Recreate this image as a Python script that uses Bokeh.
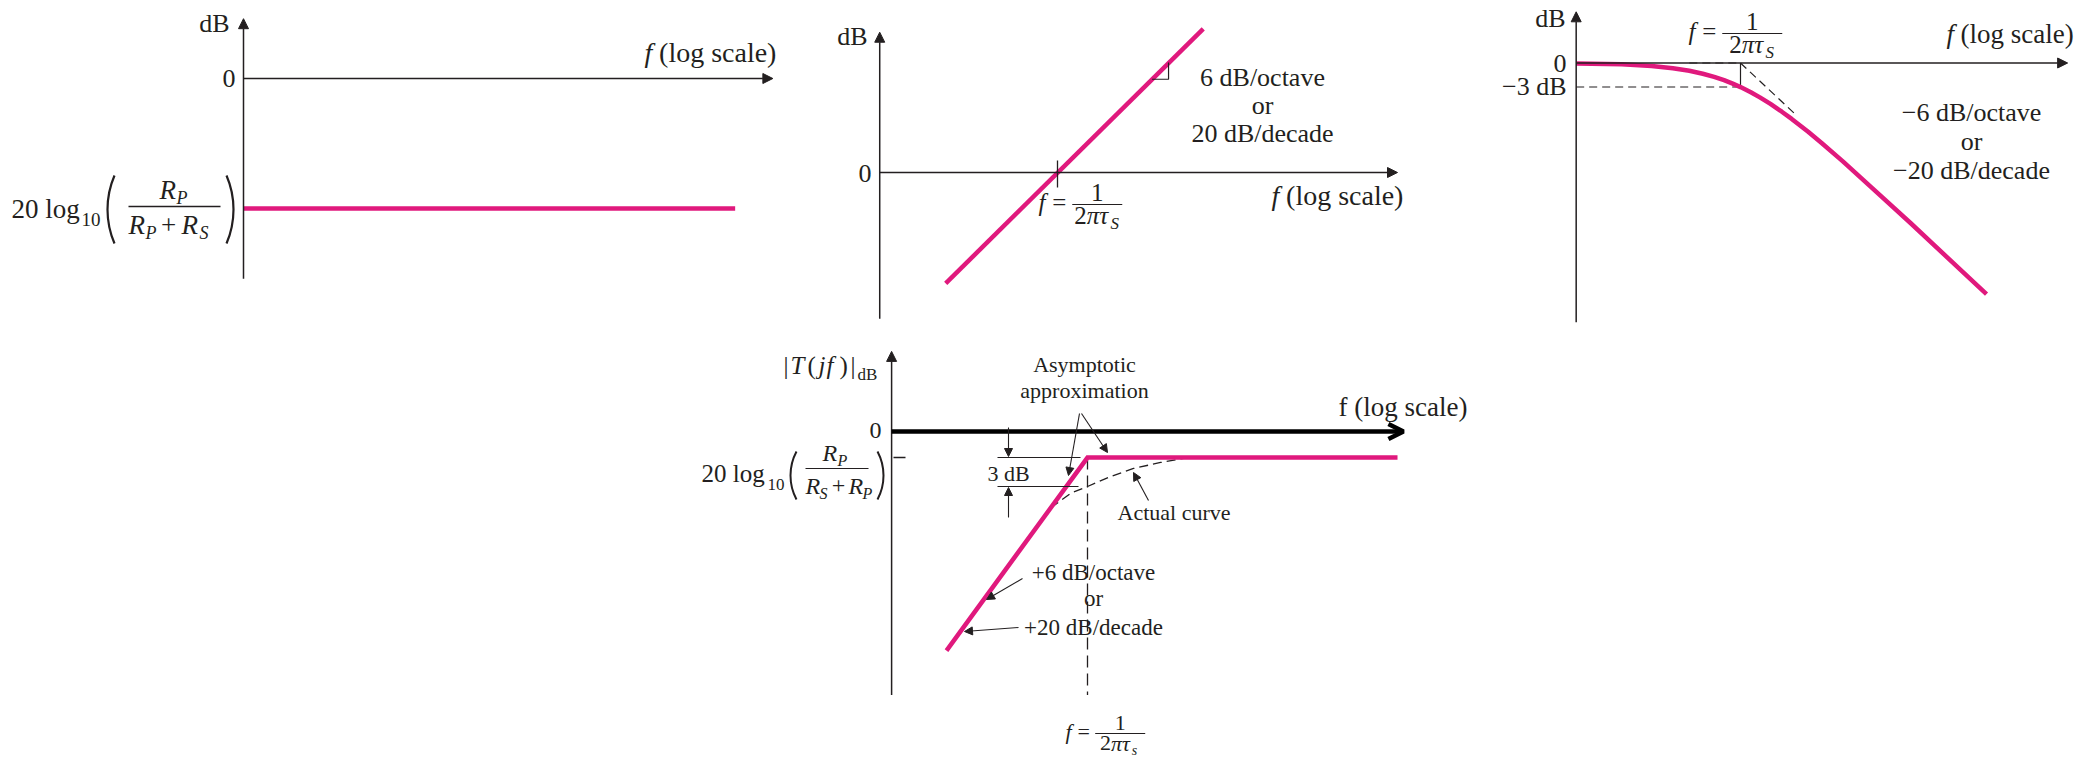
import math
from bokeh.plotting import figure
from bokeh.layouts import column, row
from bokeh.models import Range1d, Label, Arrow, NormalHead, OpenHead, Spacer
from bokeh.embed import file_html
from bokeh.resources import INLINE

SERIF = "Liberation Serif"
INK = "#231f20"
PINK = "#e0197d"

# ---------------------------------------------------------------------------
# Data: frequency normalised to the corner frequency (f / f0), levels in dB
# ---------------------------------------------------------------------------
# (a) resistive divider alone: flat loss 20 log10(Rp / (Rp + Rs))
a_freq = [0.1, 78.0]
a_db = [-10.0, -10.0]
a_freq_axis = [0.1, 130.0]
a_db_axis = [-15.4, 4.6]

# (b) series capacitor term: +20 dB/decade asymptote through 0 dB at f0
b_freq = [0.22, 7.2]
b_db = [-13.2, 17.1]
b_step_freq = [3.6, 4.5, 4.5]
b_step_db = [11.1, 11.1, 13.1]
b_freq_axis = [0.09, 100.0]
b_db_axis = [-17.4, 16.7]

# (c) single-pole low-pass response (actual curve) and its asymptotes
c_freq = [0.108, 0.2, 0.3, 0.4, 0.5, 0.6, 0.7, 0.8, 0.9, 1.0, 1.15, 1.3,
          1.5, 1.75, 2.0, 2.5, 3.0, 4.0, 6.0, 10.0, 28.0]
c_db = [-0.05, -0.17, -0.37, -0.65, -0.97, -1.34, -1.73, -2.15, -2.58, -3.01,
        -3.66, -4.30, -5.12, -6.09, -6.99, -8.60, -10.0, -12.3, -15.7, -20.0,
        -28.9]
c_flat_freq = [0.5, 1.0]
c_flat_db = [0.0, 0.0]
c_roll_freq = [1.0, 2.1]
c_roll_db = [0.0, -6.4]
c_half_freq = [0.108, 1.0]
c_half_db = [-3.0, -3.0]
c_mark_freq = [1.0, 1.0]
c_mark_db = [0.0, -3.0]
c_freq_axis = [0.108, 84.0]
c_db_axis = [-32.4, 6.4]

# (d) complete high-pass response with divider loss
d_level = -2.7
d_asym_freq = [0.1, 1.0, 158.0]
d_asym_db = [-22.7, -2.7, -2.7]
d_actual_freq = [0.55, 0.76, 1.0, 1.46, 2.12, 3.3, 5.1]
d_actual_db = [-7.9, -6.4, -5.7, -4.66, -3.83, -3.21, -2.72]
d_corner_freq = [1.0, 1.0]
d_corner_db = [-2.7, -27.3]
d_freq_axis = [0.0408, 174.0]
d_db_axis = [-27.3, 8.3]

# ---------------------------------------------------------------------------
# Page geometry of each panel (pixels) and its scale
# ---------------------------------------------------------------------------
GEOM = {
    "a": dict(left=0, top=0, w=800, h=335, f_ref=0.1, x_ref=243, ppd=170.0, y0=78, ppdb=13.0),
    "b": dict(left=800, top=0, w=630, h=335, f_ref=1.0, x_ref=1057, ppd=170.0, y0=172, ppdb=8.4),
    "c": dict(left=1430, top=0, w=650, h=335, f_ref=1.0, x_ref=1740, ppd=170.0, y0=62.5, ppdb=8.0),
    "d": dict(left=680, top=335, w=800, h=424, f_ref=1.0, x_ref=1087, ppd=141.0, y0=431, ppdb=9.65),
}


def make_panel(g):
    xr = g["x_ref"] - g["left"]
    x0 = g["f_ref"] * 10 ** (-xr / g["ppd"])
    x1 = g["f_ref"] * 10 ** ((g["w"] - xr) / g["ppd"])
    yr = g["y0"] - g["top"]
    p = figure(width=g["w"], height=g["h"], x_axis_type="log",
               x_range=Range1d(x0, x1),
               y_range=Range1d(-(g["h"] - yr) / g["ppdb"], yr / g["ppdb"]),
               x_axis_location=None, y_axis_location=None,
               output_backend="svg", toolbar_location=None, min_border=0)
    p.outline_line_color = None
    p.background_fill_color = "white"
    p.border_fill_color = "white"
    for gr in p.grid:
        gr.visible = False
    return p


def to_data(g, x, y):
    """Page pixel position -> (frequency, dB) in a panel."""
    return g["f_ref"] * 10 ** ((x - g["x_ref"]) / g["ppd"]), (g["y0"] - y) / g["ppdb"]


def put(p, g, x, y, text, size, style="normal", align="left"):
    # y is the text baseline on the page; the label box is anchored slightly above it
    yb = y - 0.36 * size
    p.add_layout(Label(x=x - g["left"], y=g["h"] - (yb - g["top"]),
                       x_units="screen", y_units="screen", text=text,
                       text_font=SERIF, text_font_size=f"{size}px",
                       text_font_style=style, text_align=align,
                       text_baseline="alphabetic", text_color=INK))


def seg(p, g, x0, y0, x1, y1, width=1.2, head=None):
    p.add_layout(Arrow(x_start=x0 - g["left"], y_start=g["h"] - (y0 - g["top"]),
                       x_end=x1 - g["left"], y_end=g["h"] - (y1 - g["top"]),
                       start_units="screen", end_units="screen", end=head,
                       line_color=INK, line_width=width))


def pointer(p, g, x0, y0, x1, y1):
    seg(p, g, x0, y0, x1, y1, 1.1,
        NormalHead(size=8, fill_color=INK, line_color=INK, line_width=1))


def paren(p, g, x_edge, y_top, y_bot, opening, bulge=7.0, width=2.2):
    h = y_bot - y_top
    r = (h * h / 4 + bulge * bulge) / (2 * bulge)
    a = math.asin((h / 2) / r)
    ym = (y_top + y_bot) / 2
    if opening:
        f, db = to_data(g, x_edge + r, ym)
        start, end = math.pi - a, math.pi + a
    else:
        f, db = to_data(g, x_edge - r, ym)
        start, end = -a, a
    p.arc(x=[f], y=[db], radius=r, radius_units="screen", start_angle=start,
          end_angle=end, line_color=INK, line_width=width)


def axes(p, fax, dbax, thick=False):
    head = NormalHead(size=10, fill_color=INK, line_color=INK, line_width=1)
    p.add_layout(Arrow(x_start=fax[0], y_start=dbax[0], x_end=fax[0], y_end=dbax[1],
                       end=head, line_color=INK, line_width=1.5))
    if thick:
        p.add_layout(Arrow(x_start=fax[0], y_start=0, x_end=fax[1], y_end=0,
                           end=OpenHead(size=15, line_color="black", line_width=4.5),
                           line_color="black", line_width=4.5))
    else:
        p.add_layout(Arrow(x_start=fax[0], y_start=0, x_end=fax[1], y_end=0,
                           end=NormalHead(size=10, fill_color=INK, line_color=INK, line_width=1),
                           line_color=INK, line_width=1.5))


def log_scale_label(p, g, x, y, size=28):
    put(p, g, x, y, "f", size, "italic")
    put(p, g, x + 0.52 * size, y, "(log scale)", size)


def corner_label(p, g, xf, ybar, bar, size, sub):
    base = ybar + 0.26 * size
    put(p, g, xf, base, "f", size, "italic")
    put(p, g, xf + 0.55 * size, base, "=", size)
    xb0 = xf + 1.35 * size
    seg(p, g, xb0, ybar, xb0 + bar, ybar, 1.2)
    xc = xb0 + bar / 2
    put(p, g, xc, ybar - 0.14 * size, "1", size, align="center")
    x2 = xc - 0.92 * size
    put(p, g, x2, ybar + 0.8 * size, "2", size)
    put(p, g, x2 + 0.5 * size, ybar + 0.8 * size, "\u03c0\u03c4", size, "italic")
    put(p, g, x2 + 1.45 * size, ybar + 1.0 * size, sub, int(size * 0.68), "italic")


GA, GB, GC, GD = GEOM["a"], GEOM["b"], GEOM["c"], GEOM["d"]

# ---------------- (a) ----------------
pa = make_panel(GA)
pa.line(a_freq, a_db, line_color=PINK, line_width=4.5)
axes(pa, a_freq_axis, a_db_axis)
put(pa, GA, 229, 32, "dB", 26, align="right")
put(pa, GA, 235, 87, "0", 26, align="right")
log_scale_label(pa, GA, 644, 62)
put(pa, GA, 11, 218, "20 log", 27)
put(pa, GA, 81, 226, "10", 19)
paren(pa, GA, 107, 175, 243, True)
put(pa, GA, 159, 199, "R", 27, "italic")
put(pa, GA, 176, 204, "P", 18, "italic")
seg(pa, GA, 128, 206, 220, 206, 1.3)
put(pa, GA, 128, 234, "R", 27, "italic")
put(pa, GA, 145, 239, "P", 18, "italic")
put(pa, GA, 168, 234, "+", 27, align="center")
put(pa, GA, 181, 234, "R", 27, "italic")
put(pa, GA, 199, 239, "S", 18, "italic")
paren(pa, GA, 233, 175, 243, False)

# ---------------- (b) ----------------
pb = make_panel(GB)
pb.line(b_freq, b_db, line_color=PINK, line_width=4.5)
pb.line(b_step_freq, b_step_db, line_color=INK, line_width=1.2)
axes(pb, b_freq_axis, b_db_axis)
seg(pb, GB, GB["x_ref"], 160, GB["x_ref"], 187, 1.3)
put(pb, GB, 867, 45, "dB", 26, align="right")
put(pb, GB, 871, 182, "0", 26, align="right")
log_scale_label(pb, GB, 1271, 205)
put(pb, GB, 1262, 86, "6 dB/octave", 26, align="center")
put(pb, GB, 1262, 114, "or", 26, align="center")
put(pb, GB, 1262, 142, "20 dB/decade", 26, align="center")
corner_label(pb, GB, 1038, 204, 50, 25, "S")

# ---------------- (c) ----------------
pc = make_panel(GC)
pc.line(c_flat_freq, c_flat_db, line_color=INK, line_width=1.2, line_dash="8 5")
pc.line(c_roll_freq, c_roll_db, line_color=INK, line_width=1.2, line_dash="8 5")
pc.line(c_half_freq, c_half_db, line_color=INK, line_width=1.2, line_dash="8 5")
pc.line(c_mark_freq, c_mark_db, line_color=INK, line_width=1.2)
pc.line(c_freq, c_db, line_color=PINK, line_width=4.5)
axes(pc, c_freq_axis, c_db_axis)
put(pc, GC, 1565, 27, "dB", 26, align="right")
put(pc, GC, 1566, 72, "0", 26, align="right")
put(pc, GC, 1566, 95, "\u22123 dB", 26, align="right")
log_scale_label(pc, GC, 1946, 43, 27)
put(pc, GC, 1971, 121, "\u22126 dB/octave", 26, align="center")
put(pc, GC, 1971, 150, "or", 26, align="center")
put(pc, GC, 1971, 179, "\u221220 dB/decade", 26, align="center")
corner_label(pc, GC, 1688, 33, 60, 25, "S")

# ---------------- (d) ----------------
pd_ = make_panel(GD)
pd_.line(d_corner_freq, d_corner_db, line_color=INK, line_width=1.3, line_dash="12 6")
pd_.line(d_actual_freq, d_actual_db, line_color=INK, line_width=1.3, line_dash="9 5")
pd_.line(d_asym_freq, d_asym_db, line_color=PINK, line_width=4.5, line_join="miter")
axes(pd_, d_freq_axis, d_db_axis, thick=True)
seg(pd_, GD, 893, 457, 905, 457, 1.3)
# |T(jf)|dB
put(pd_, GD, 783, 374, "|", 25)
put(pd_, GD, 790, 374, "T", 25, "italic")
put(pd_, GD, 807, 374, "(", 25)
put(pd_, GD, 818, 374, "j", 25, "italic")
put(pd_, GD, 826, 374, "f", 25, "italic")
put(pd_, GD, 839, 374, ")", 25)
put(pd_, GD, 850, 374, "|", 25)
put(pd_, GD, 857, 380, "dB", 17)
put(pd_, GD, 881, 439, "0", 24, align="right")
put(pd_, GD, 1338, 416, "f (log scale)", 27)
put(pd_, GD, 701, 482, "20 log", 25)
put(pd_, GD, 767, 490, "10", 17)
paren(pd_, GD, 790, 451, 499, True, bulge=6.0, width=2.0)
put(pd_, GD, 822, 461, "R", 24, "italic")
put(pd_, GD, 837, 466, "P", 16, "italic")
seg(pd_, GD, 805, 468, 868, 468, 1.2)
put(pd_, GD, 805, 494, "R", 24, "italic")
put(pd_, GD, 819, 499, "S", 16, "italic")
put(pd_, GD, 838, 494, "+", 24, align="center")
put(pd_, GD, 848, 494, "R", 24, "italic")
put(pd_, GD, 862, 499, "P", 16, "italic")
paren(pd_, GD, 883, 451, 499, False, bulge=6.0, width=2.0)
# asymptote callout
put(pd_, GD, 1084, 372, "Asymptotic", 22, align="center")
put(pd_, GD, 1084, 398, "approximation", 22, align="center")
pointer(pd_, GD, 1079, 413, 1068, 475)
pointer(pd_, GD, 1081, 413, 1107, 452)
# 3 dB dimension
seg(pd_, GD, 997, 457, 1080, 457, 1.1)
seg(pd_, GD, 997, 486, 1078, 486, 1.1)
put(pd_, GD, 987, 481, "3 dB", 22)
pointer(pd_, GD, 1008, 427, 1008, 456)
pointer(pd_, GD, 1008, 517, 1008, 487)
# actual curve callout
put(pd_, GD, 1117, 520, "Actual curve", 22)
pointer(pd_, GD, 1148, 500, 1133, 472)
# slope callout
put(pd_, GD, 1093, 580, "+6 dB/octave", 23, align="center")
put(pd_, GD, 1093, 606, "or", 23, align="center")
put(pd_, GD, 1093, 635, "+20 dB/decade", 23, align="center")
pointer(pd_, GD, 1022, 578, 986, 599)
pointer(pd_, GD, 1018, 627, 964, 631)
corner_label(pd_, GD, 1065, 733, 50, 22, "s")

layout = column(row(pa, pb, pc), row(Spacer(width=680, height=424), pd_))
open("out.html", "w").write(file_html(layout, INLINE))
